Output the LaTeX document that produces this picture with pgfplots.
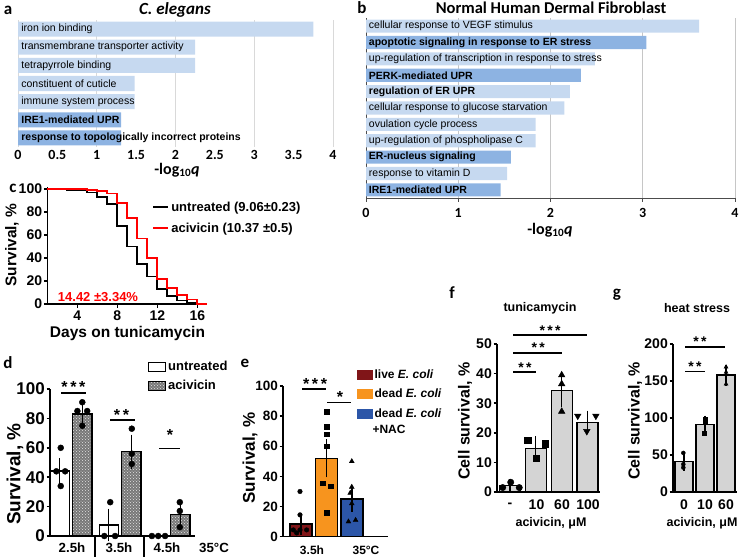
\documentclass[border=0pt]{standalone}
\usepackage{fontspec}
\setmainfont{Liberation Sans}
\setsansfont{Liberation Sans}
\newfontfamily\calibri{Carlito}
\usepackage{pgfplots}
\pgfplotsset{compat=1.18}
\usetikzlibrary{patterns}

\definecolor{lightbar}{RGB}{198,217,240}
\definecolor{darkbar}{RGB}{141,179,226}
\definecolor{livec}{RGB}{128,21,24}
\definecolor{deadc}{RGB}{247,148,30}
\definecolor{nacc}{RGB}{44,86,168}
\definecolor{cellbar}{RGB}{212,212,212}
\definecolor{hatchbg}{RGB}{120,120,120}
\newcommand{\fs}[1]{\fontsize{#1}{#1}\selectfont}

\pgfplotsset{
  go/.style={scale only axis, clip=false, xmin=0, xmax=4, ytick=\empty,
    /pgf/number format/assume math mode=true,
    ticklabel style={font=\calibri\bfseries\fs{14}}},
  gp/.style={scale only axis, clip=false, axis lines*=left,
    axis line style={-, line width=1.5pt},
    tick style={line width=1.5pt, black}, tick align=outside, major tick length=3.5pt,
    xtick=\empty, /pgf/number format/assume math mode=true,
    yticklabel style={inner sep=1.5pt},
    legend cell align=left},
  gbar/.style={ybar, bar shift=0pt, draw=black, line width=1.3pt,
    error bars/y dir=both, error bars/y explicit,
    error bars/error bar style={line width=1.3pt, black},
    error bars/error mark options={mark size=5pt, line width=1.3pt, black}},
  sig/.style={black, line width=1.3pt, forget plot},
}

\begin{document}
\begin{tikzpicture}[x=1pt,y=1pt]
\path[use as bounding box] (0,0) rectangle (739,558);

% ---------- a ----------
\node[font=\calibri\bfseries\fs{17}] at (8,548) {a};
\node[font=\calibri\bfseries\itshape\fs{17}] at (175,548) {C. elegans};
\begin{axis}[go, at={(18pt,411pt)}, anchor=south west, width=315pt, height=127pt,
  ymin=0.5, ymax=7.5, xtick={0,1,2,3,4}, extra x ticks={0.5,1.5,2.5,3.5},
  extra x tick style={grid=none}, xmajorgrids, grid style={gray!30, line width=0.6pt},
  axis line style={draw=none}, major tick length=0pt]
\addplot[xbar, bar shift=0pt, bar width=0.83, fill=lightbar, draw=none]
  coordinates {(3.75,7) (2.25,6) (2.25,5) (1.48,4) (1.48,3)};
\addplot[xbar, bar shift=0pt, bar width=0.83, fill=darkbar, draw=none]
  coordinates {(1.31,2) (1.31,1)};
\begin{scope}[every node/.style={anchor=west, inner sep=0pt, font=\fs{10.5}}]
\node at (axis cs:0.04,7) {iron ion binding};
\node at (axis cs:0.04,6) {transmembrane transporter activity};
\node at (axis cs:0.04,5) {tetrapyrrole binding};
\node at (axis cs:0.04,4) {constituent of cuticle};
\node at (axis cs:0.04,3) {immune system process};
\node[font=\bfseries\fs{10.5}] at (axis cs:0.04,2) {IRE1-mediated UPR};
\node[font=\bfseries\fs{10.5}] at (axis cs:0.04,1) {response to topologically incorrect proteins};
\end{scope}
\end{axis}
\node[font=\calibri\bfseries\fs{16}] at (177,388) {-log\textsubscript{10}\textit{q}};

% ---------- b ----------
\node[font=\calibri\bfseries\fs{17}] at (362,550) {b};
\node[font=\calibri\bfseries\fs{16.5}] at (551,550) {Normal Human Dermal Fibroblast};
\begin{axis}[go, at={(366pt,360pt)}, anchor=south west, width=369pt, height=180pt,
  ymin=0.5, ymax=11.5, xtick={0,1,2,3,4}, xmajorgrids, grid style={gray!45, line width=0.6pt},
  axis x line*=bottom, axis y line*=left,
  axis line style={-, gray!60!black, line width=0.8pt},
  xticklabel style={yshift=-3pt},
  tick align=outside, major tick length=3.5pt, tick style={gray!60!black, line width=0.8pt}]
\addplot[xbar, bar shift=0pt, bar width=0.8, fill=lightbar, draw=none]
  coordinates {(3.61,11) (2.48,9) (2.21,7) (2.15,6) (1.84,5) (1.84,4) (1.53,2)};
\addplot[xbar, bar shift=0pt, bar width=0.8, fill=darkbar, draw=none]
  coordinates {(3.04,10) (2.33,8) (1.57,3) (1.46,1)};
\begin{scope}[every node/.style={anchor=west, inner sep=0pt, font=\fs{10.5}}]
\node at (axis cs:0.03,11) {cellular response to VEGF stimulus};
\node[font=\bfseries\fs{10.5}] at (axis cs:0.03,10) {apoptotic signaling in response to ER stress};
\node at (axis cs:0.03,9) {up-regulation of transcription in response to stress};
\node[font=\bfseries\fs{10.5}] at (axis cs:0.03,8) {PERK-mediated UPR};
\node[font=\bfseries\fs{10.5}] at (axis cs:0.03,7) {regulation of ER UPR};
\node at (axis cs:0.03,6) {cellular response to glucose starvation};
\node at (axis cs:0.03,5) {ovulation cycle process};
\node at (axis cs:0.03,4) {up-regulation of phospholipase C};
\node[font=\bfseries\fs{10.5}] at (axis cs:0.03,3) {ER-nucleus signaling};
\node at (axis cs:0.03,2) {response to vitamin D};
\node[font=\bfseries\fs{10.5}] at (axis cs:0.03,1) {IRE1-mediated UPR};
\end{scope}
\end{axis}
\node[font=\calibri\bfseries\fs{16}] at (550,328) {-log\textsubscript{10}\textit{q}};

% ---------- c ----------
\node[font=\calibri\bfseries\fs{17}] at (13,370) {c};
\begin{axis}[gp, at={(47.3pt,254pt)}, anchor=south west, width=160pt, height=117.3pt,
  xmin=1, xmax=17, ymin=0, ymax=102, xtick={4,8,12,16}, ytick={0,20,...,100},
  ticklabel style={font=\bfseries\fs{14}},
  legend style={at={(axis description cs:0.655,0.89)}, anchor=north west, draw=none,
    fill=none, font=\bfseries\fs{13}, row sep=6pt, inner sep=0pt}]
\addlegendimage{legend image code/.code={\draw[black, line width=2pt] (0pt,0pt) -- (15pt,0pt);}}
\addlegendentry{untreated (9.06±0.23)}
\addlegendimage{legend image code/.code={\draw[red, line width=2pt] (0pt,0pt) -- (15pt,0pt);}}
\addlegendentry{acivicin (10.37 ±0.5)}
\addplot[const plot, black, line width=1.7pt, forget plot] coordinates {
  (1,100) (3,99) (5,97) (6,93) (7,87) (8,68) (9,50) (10,35) (11,24)
  (12,13) (13,7) (14,3) (15,1) (16,0) (17,0)};
\addplot[const plot, red, line width=1.7pt, forget plot] coordinates {
  (1,100) (5,99) (6,98) (7,96) (8,88) (9,75) (10,57) (11,40) (12,22)
  (13,14) (14,8) (15,4) (16,0) (17,0)};
\end{axis}
\node[font=\bfseries\fs{13}, text=red] at (98,261) {14.42 ±3.34\%};
\node[font=\bfseries\fs{15.5}] at (127.5,225) {Days on tunicamycin};
\node[font=\bfseries\fs{15.5}, rotate=90] at (12,313) {Survival, \%};

% ---------- d ----------
\node[font=\calibri\bfseries\fs{17}] at (8,195) {d};
\begin{axis}[gp, at={(50pt,22pt)}, anchor=south west, width=145pt, height=147pt,
  xmin=0.571, xmax=3.53, ymin=0, ymax=100, ytick={0,20,...,100},
  ticklabel style={font=\bfseries\fs{17}},
  legend style={at={(axis description cs:0.676,1.204)}, anchor=north west, draw=none,
    fill=none, font=\bfseries\fs{13}, row sep=4pt, inner sep=0pt},
  legend image code/.code={\draw[#1] (0pt,-4.5pt) rectangle (17pt,4.5pt);}]
\addlegendimage{fill=white, draw=black, line width=1pt}
\addlegendentry{untreated}
\addlegendimage{fill=hatchbg, draw=black, line width=1pt,
  postaction={pattern=crosshatch dots, pattern color=white!80!gray}}
\addlegendentry{acivicin}
\addplot[gbar, forget plot, fill=white, bar width=0.39]
  coordinates {(0.77,44.3) +- (0,5.3) (1.77,7.5) +- (0,7.8)};
\addplot[gbar, forget plot, fill=hatchbg,
  postaction={pattern=crosshatch dots, pattern color=white!80!gray}, bar width=0.39]
  coordinates {(1.23,83) +- (0,3.5) (2.23,57.3) +- (0,8.3) (3.23,14.6) +- (0,5.3)};
\addplot[only marks, forget plot, mark=*, mark size=3pt, black] coordinates {
  (0.79,60) (0.70,44) (0.88,44) (0.79,34)
  (1.23,91) (1.13,85) (1.33,85) (1.23,75)
  (1.80,23) (1.68,0) (1.90,0)
  (2.24,73) (2.24,56) (2.24,49)
  (2.65,0) (2.78,0) (2.92,0)
  (3.22,23) (3.22,17) (3.22,6)};
\addplot[sig] coordinates {(0.80,97.3) (1.31,97.3)};
\addplot[sig] coordinates {(1.80,78.9) (2.31,78.9)};
\addplot[sig] coordinates {(2.80,59.7) (3.22,59.7)};
\node[anchor=base, font=\bfseries\fs{16}] at (axis cs:1.05,97.3) {*\,*\,*};
\node[anchor=base, font=\bfseries\fs{16}] at (axis cs:2.03,78.9) {*\,*};
\node[anchor=base, font=\bfseries\fs{16}, yshift=8pt] at (axis cs:3.02,59.7) {*};
\draw[line width=1.5pt] (axis cs:1.49,0) -- ++(0pt,-21pt);
\draw[line width=1.5pt] (axis cs:2.49,0) -- ++(0pt,-21pt);
\end{axis}
\begin{scope}[every node/.style={font=\bfseries\fs{13.3}}]
\node at (72,10) {2.5h};
\node at (119,10) {3.5h};
\node at (167,10) {4.5h};
\node at (214,10) {35°C};
\end{scope}
\node[font=\bfseries\fs{19}, rotate=90] at (15,84) {Survival, \%};

% ---------- e ----------
\node[font=\calibri\bfseries\fs{17}] at (245,195) {e};
\begin{axis}[gp, at={(283pt,21.3pt)}, anchor=south west, width=105pt, height=150.7pt,
  xmin=0.294, xmax=4.41, ymin=0, ymax=100, ytick={0,20,...,100},
  ticklabel style={font=\bfseries\fs{13.5}},
  legend style={at={(axis description cs:0.705,1.125)}, anchor=north west, draw=none,
    fill=none, font=\bfseries\fs{12}, row sep=5.5pt, inner sep=0pt},
  legend image code/.code={\fill[#1] (0pt,-4.5pt) rectangle (15pt,4.5pt);}]
\addlegendimage{livec}
\addlegendentry{live \textit{E. coli}}
\addlegendimage{deadc}
\addlegendentry{dead \textit{E. coli}}
\addlegendimage{nacc}
\addlegendentry{dead \textit{E. coli}}
\addplot[gbar, forget plot, fill=livec, bar width=0.86] coordinates {(1,8.4) +- (0,4.2)};
\addplot[gbar, forget plot, fill=deadc, bar width=0.86] coordinates {(2,52) +- (0,9.3)};
\addplot[gbar, forget plot, fill=nacc, bar width=0.86] coordinates {(3,25) +- (0,5)};
\addplot[only marks, forget plot, mark=*, mark size=2.3pt, black] coordinates {
  (0.96,30) (0.96,14.5) (0.70,4.5) (0.96,4.5) (1.22,4.5) (0.83,2.5)};
\addplot[only marks, forget plot, mark=square*, mark size=2.3pt, black] coordinates {
  (2,83) (2,73) (2,68) (2,60) (1.84,35.4) (2.16,33.6) (2,16)};
\addplot[only marks, forget plot, mark=triangle*, mark size=2.8pt, black] coordinates {
  (2.99,50) (2.99,33) (2.93,29) (2.99,22) (2.86,10) (3.14,11)};
\addplot[sig] coordinates {(1.04,98) (1.98,98)};
\addplot[sig] coordinates {(2.02,88.9) (2.96,88.9)};
\node[anchor=base, font=\bfseries\fs{16}] at (axis cs:1.55,98) {*\,*\,*};
\node[anchor=base, font=\bfseries\fs{16}] at (axis cs:2.53,88.9) {*};
\end{axis}
\node[font=\bfseries\fs{12}] at (389,129) {+NAC};
\node[font=\bfseries\fs{12}] at (312,8) {3.5h};
\node[font=\bfseries\fs{12}] at (366,8) {35°C};
\node[font=\bfseries\fs{17}, rotate=90] at (250,100) {Survival, \%};

% ---------- f ----------
\node[font=\calibri\bfseries\fs{17}] at (452,265) {f};
\node[font=\bfseries\fs{12.5}] at (540,250) {tunicamycin};
\begin{axis}[gp, at={(497pt,66pt)}, anchor=south west, width=103pt, height=148pt,
  xmin=-0.5, xmax=3.48, ymin=0, ymax=50, ytick={0,10,...,50},
  ticklabel style={font=\bfseries\fs{14}}]
\addplot[gbar, forget plot, fill=cellbar, bar width=0.81] coordinates {
  (0,2.1) +- (0,0.7) (1,14.8) +- (0,2.3) (2,34.2) +- (0,3.8) (3,23.5) +- (0,2.3)};
\addplot[only marks, forget plot, mark=*, mark size=3.2pt, black] coordinates {
  (-0.28,1.5) (0.03,3.3) (0.36,1.5)};
\addplot[only marks, forget plot, mark=square*, mark size=3.2pt, black] coordinates {
  (0.69,17.6) (1.36,16.3) (1.01,11.5)};
\addplot[only marks, forget plot, mark=triangle*, mark size=3.8pt, black] coordinates {
  (2.0,39.5) (2.0,36.5) (2.0,27.2)};
\addplot[only marks, forget plot, mark=triangle*, mark size=3.8pt, black,
  mark options={rotate=180}] coordinates {(2.62,25.7) (3.32,25.7) (2.97,20.5)};
\addplot[sig] coordinates {(0.12,40.5) (1.01,40.5)};
\addplot[sig] coordinates {(0.12,47) (2.02,47)};
\addplot[sig] coordinates {(0.12,53) (2.98,53)};
\node[anchor=base, font=\bfseries\fs{14}] at (axis cs:0.58,40.5) {*\,*};
\node[anchor=base, font=\bfseries\fs{14}] at (axis cs:1.09,47) {*\,*};
\node[anchor=base, font=\bfseries\fs{14}] at (axis cs:1.55,53) {*\,*\,*};
\end{axis}
\begin{scope}[every node/.style={font=\bfseries\fs{14}}]
\node at (510,53) {-};
\node at (536.5,53) {10};
\node at (562,53) {60};
\node at (588,53) {100};
\end{scope}
\node[font=\bfseries\fs{12.5}] at (551,35) {acivicin, μM};
\node[font=\bfseries\fs{16}, rotate=90] at (465,137) {Cell survival, \%};

% ---------- g ----------
\node[font=\calibri\bfseries\fs{17}] at (617,263) {g};
\node[font=\bfseries\fs{12.5}] at (697,250) {heat stress};
\begin{axis}[gp, at={(673pt,66pt)}, anchor=south west, width=64pt, height=148pt,
  xmin=-0.52, xmax=2.52, ymin=0, ymax=200, ytick={0,50,...,200},
  ticklabel style={font=\bfseries\fs{14}}]
\addplot[gbar, forget plot, fill=cellbar, bar width=0.86] coordinates {
  (0,41) +- (0,5.5) (1,91) +- (0,5.5) (2,158) +- (0,7.5)};
\addplot[only marks, forget plot, mark=*, mark size=2pt, black] coordinates {
  (-0.03,52.8) (-0.03,37.5) (-0.03,33)};
\addplot[only marks, forget plot, mark=square*, mark size=2pt, black] coordinates {
  (1,99) (1,94) (0.97,80)};
\addplot[only marks, forget plot, mark=triangle*, mark size=2.3pt, black] coordinates {
  (2,169) (2,162) (2,146)};
\addplot[sig] coordinates {(0.05,162.6) (1.0,162.6)};
\addplot[sig] coordinates {(0.05,196) (1.95,196)};
\node[anchor=base, font=\bfseries\fs{14}] at (axis cs:0.52,162.6) {*\,*};
\node[anchor=base, font=\bfseries\fs{14}] at (axis cs:0.76,196) {*\,*};
\end{axis}
\begin{scope}[every node/.style={font=\bfseries\fs{14}}]
\node at (684,53) {0};
\node at (705,53) {10};
\node at (726,53) {60};
\end{scope}
\node[font=\bfseries\fs{12.5}] at (702,35) {acivicin, μM};
\node[font=\bfseries\fs{16}, rotate=90] at (635,137) {Cell survival, \%};
\end{tikzpicture}
\end{document}
